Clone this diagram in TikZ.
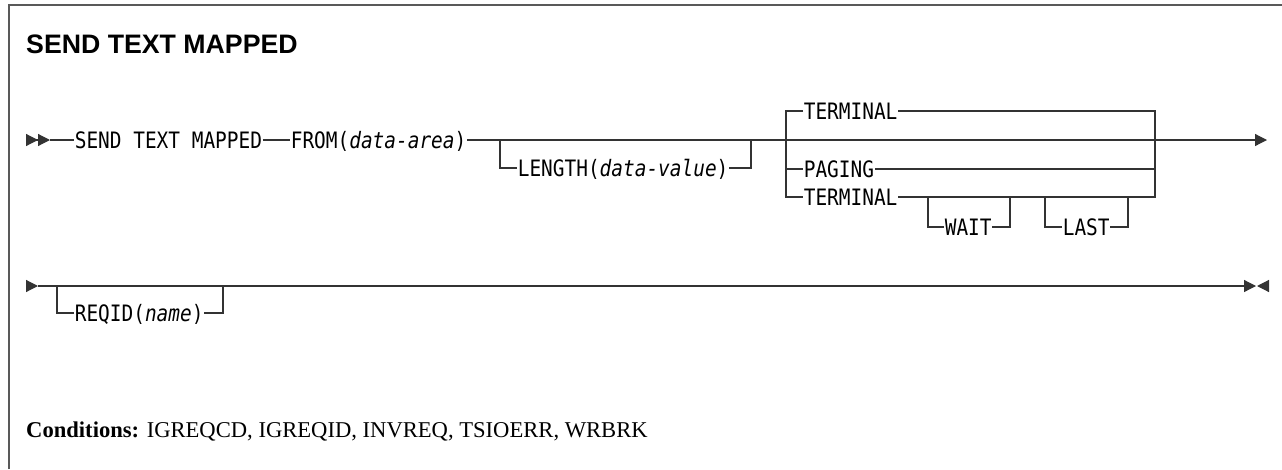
\documentclass[tikz,border=0pt]{standalone}
\usepackage{fontspec}
\setmainfont{Liberation Serif}
\newfontfamily\railfont[FakeStretch=0.86]{DejaVu Sans Mono}
\newfontfamily\headfont{Liberation Sans}
\usetikzlibrary{arrows.meta, positioning}
\tikzset{
  rail/.style={line width=1.2pt, draw=black!80},
  frm/.style={line width=1.8pt, draw=black!65},
  kw/.style={font=\railfont\fontsize{22.6}{24}\selectfont, inner ysep=0pt,
             inner xsep=0.6pt, text height=16pt, text depth=0pt, anchor=west},
  tip/.style={-{Triangle[length=12pt, width=12pt]}},
  dtip/.style={-{Triangle[length=12pt, width=12pt]Triangle[length=12pt, width=12pt]}},
}

\begin{document}
\begin{tikzpicture}[x=1pt, y=-1pt]
  \useasboundingbox (0,0) rectangle (1282,469);

  % frame, open to the right and below
  \draw[frm] (9,469) -- (9,5) -- (1282,5);

  \node[anchor=base west, inner sep=0pt, font=\headfont\bfseries\fontsize{26.7}{28}\selectfont]
    (title) at (26,53) {SEND TEXT MAPPED};

  % main line, first row
  \coordinate (r1s) at (26,140);
  \coordinate (r1a) at (50,140);
  \coordinate (r1e) at (1267,140);
  \node[kw] (cmd) at (74,140) {SEND TEXT MAPPED};
  \node[kw] (from) at (290,140) {FROM(\textit{data-area})};

  \draw[rail, dtip] (r1s) -- (r1a);
  \draw[rail] (r1a) -- (cmd.west);
  \draw[rail] (cmd.east) -- (from.west);
  \draw[rail, tip] (from.east) -- (r1e);

  % optional LENGTH
  \coordinate (lenl) at (500,140);
  \coordinate (lenr) at (751,140);
  \node[kw] (len) at (517,168) {LENGTH(\textit{data-value})};
  \draw[rail] (lenl) |- (len.west);
  \draw[rail] (len.east) -| (lenr);

  % TERMINAL / PAGING choice
  \coordinate (chl) at (786,140);
  \coordinate (chr) at (1155,140);
  \node[kw] (term) at (803,111) {TERMINAL};
  \node[kw] (pag) at (803,169) {PAGING};
  \node[kw] (termb) at (803,197) {TERMINAL};
  \draw[rail] (term.west) -| (chl |- termb.west) -- (termb.west);
  \draw[rail] (chl |- pag.west) -- (pag.west);
  \draw[rail] (term.east) -| (chr |- termb.east) -- (termb.east);
  \draw[rail] (pag.east) -- (chr |- pag.east);

  % WAIT and LAST under the second TERMINAL
  \coordinate (waitl) at (928,197);
  \coordinate (waitr) at (1010,197);
  \coordinate (lastl) at (1045,197);
  \coordinate (lastr) at (1128,197);
  \node[kw] (wait) at (944,227) {WAIT};
  \node[kw] (last) at (1062,227) {LAST};
  \draw[rail] (waitl) |- (wait.west);
  \draw[rail] (wait.east) -| (waitr);
  \draw[rail] (lastl) |- (last.west);
  \draw[rail] (last.east) -| (lastr);

  % second row
  \coordinate (r2s) at (26,286);
  \coordinate (r2a) at (38,286);
  \coordinate (r2e) at (1256,286);
  \coordinate (r2f) at (1268,286);
  \coordinate (r2g) at (1257,286);
  \coordinate (reql) at (57,286);
  \coordinate (reqr) at (223,286);
  \node[kw] (req) at (74,313) {REQID(\textit{name})};

  \draw[rail, tip] (r2s) -- (r2a);
  \draw[rail, tip] (r2a) -- (r2e);
  \draw[rail, tip] (r2f) -- (r2g);
  \draw[rail] (reql) |- (req.west);
  \draw[rail] (req.east) -| (reqr);

  \node[anchor=base west, inner sep=0pt, font=\fontsize{22.6}{25}\selectfont]
    (cond) at (26,437) {\textbf{Conditions:} IGREQCD, IGREQID, INVREQ, TSIOERR, WRBRK};
\end{tikzpicture}
\end{document}
